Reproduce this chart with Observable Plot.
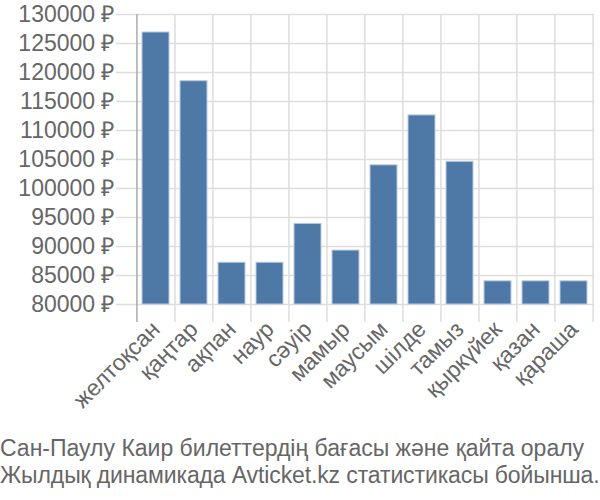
<!DOCTYPE html>
<html>
<head>
<meta charset="utf-8">
<script src="https://cdn.jsdelivr.net/npm/d3@7"></script>
<script src="https://cdn.jsdelivr.net/npm/@observablehq/plot@0.6"></script>
<style>
  body { margin: 0; background: #fff; font-family: "Liberation Sans", Arial, sans-serif; }
  #chart { width: 600px; height: 500px; position: relative; }
  .caption { position: absolute; left: 0; top: 435px; font-size: 23px; line-height: 27px; color: #666; white-space: nowrap; }
  .caption div:nth-child(2) { letter-spacing: -0.12px; }
</style>
</head>
<body>
<div id="chart"></div>
<script>
const months = ["желтоқсан", "қаңтар", "ақпан", "наур", "сәуір", "мамыр", "маусым", "шілде", "тамыз", "қыркүйек", "қазан", "қараша"];
const prices = [126900, 118500, 87200, 87200, 93900, 89300, 104000, 112600, 104600, 84000, 84000, 84000];
const yTicks = [80000, 85000, 90000, 95000, 100000, 105000, 110000, 115000, 120000, 125000, 130000];
const captionLines = [
  "Сан-Паулу Каир билеттердің бағасы және қайта оралу",
  "Жылдық динамикада Avticket.kz статистикасы бойынша."
];

const data = months.map((m, i) => ({month: m, price: prices[i]}));
const W = 600, marginLeft = 136, marginRight = 6;
const step = (W - marginLeft - marginRight) / months.length;

const chart = Plot.plot({
  width: W,
  height: 430,
  marginLeft,
  marginRight,
  marginTop: 14,
  marginBottom: 126,
  style: {fontFamily: "Liberation Sans, Arial, sans-serif", fontSize: "23px", color: "#666", background: "#fff"},
  x: {domain: months, paddingInner: 0.28, paddingOuter: 0.14},
  y: {domain: [80000, 130000]},
  marks: [
    Plot.gridY(yTicks, {stroke: "#ddd", strokeOpacity: 1, strokeWidth: 1.5}),
    Plot.ruleX(months, {x: d => d, y1: 130000, y2: 80000, dx: -step / 2, insetBottom: -18,
      stroke: (d, i) => i === 0 ? "#aaa" : "#ddd", strokeWidth: 1.5}),
    Plot.ruleX([months[months.length - 1]], {x: d => d, y1: 130000, y2: 80000, dx: step / 2, insetBottom: -18, stroke: "#ddd", strokeWidth: 1.5}),
    Plot.barY(data, {x: "month", y1: 80000, y2: "price", fill: "#4e79a7", stroke: "#b9cbe0", strokeWidth: 1}),
    Plot.axisY(yTicks, {tickSize: 20, tickPadding: 2, stroke: "#ddd", strokeWidth: 1.5, fill: "#666", fontSize: 23,
      tickFormat: d => d + " ₽", label: null}),
    Plot.axisX({tickSize: 0, tickRotate: -45, tickPadding: 21, fontSize: 23, fill: "#666", label: null})
  ]
});

const root = document.getElementById("chart");
root.appendChild(chart);
const cap = document.createElement("div");
cap.className = "caption";
cap.innerHTML = captionLines.map(s => `<div>${s}</div>`).join("");
root.appendChild(cap);
</script>
</body>
</html>
